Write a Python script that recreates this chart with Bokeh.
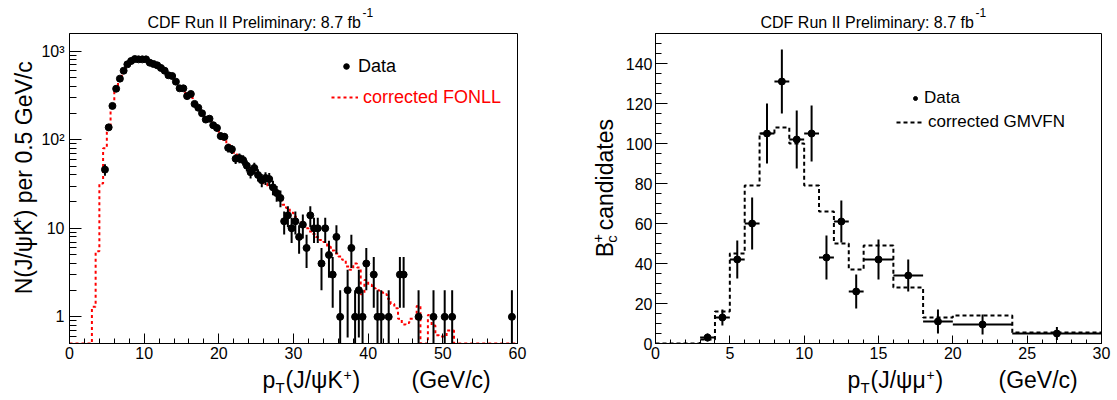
import numpy as np
from math import pi
from bokeh.plotting import figure
from bokeh.layouts import row, column
from bokeh.models import (Range1d, FixedTicker, Legend, LegendItem,
                          CustomJSTickFormatter)
from bokeh.core.properties import value
from bokeh.embed import file_html
from bokeh.resources import INLINE

FONT = "Liberation Sans"

# ---------------- left panel: B+ -> J/psi K+ ----------------
bk_pt = [4.75, 5.25, 5.75, 6.25, 6.75, 7.25, 7.75, 8.25, 8.75, 9.25,
         9.75, 10.25, 10.75, 11.25, 11.75, 12.25, 12.75, 13.25, 13.75, 14.25,
         14.75, 15.25, 15.75, 16.25, 16.75, 17.25, 17.75, 18.25, 18.75, 19.25,
         19.75, 20.25, 20.75, 21.25, 21.75, 22.25, 22.75, 23.25, 23.75, 24.25,
         24.75, 25.25, 25.75, 26.25, 26.75, 27.25, 27.75, 28.25, 28.75, 29.25,
         29.75, 30.25, 30.75, 31.25, 31.75, 32.25, 32.75, 33.25, 33.75, 34.25,
         34.75, 35.25, 35.75, 36.25, 37.25, 37.75, 38.25, 38.75, 39.25, 39.75,
         40.75, 41.25, 41.75, 42.75, 44.25, 44.75, 46.75, 48.75, 50.25, 51.25,
         59.25]
bk_counts = [46, 138, 241, 377, 490, 602, 711, 775, 816, 809,
             809, 809, 742, 717, 693, 647, 602, 535, 525, 453,
             381, 381, 311, 329, 254, 230, 199, 169, 173, 146,
             136, 110, 108, 81, 78, 61, 62, 59, 51, 43,
             48, 40, 35, 37, 36, 29, 25, 22, 12, 14,
             10, 12, 8, 11, 6, 14, 10, 10, 4, 10,
             5, 3, 8, 1, 2, 6, 1, 2, 1, 4,
             3, 1, 1, 1, 3, 3, 1, 1, 1, 1,
             1]
bk_bin_width = 0.5

# corrected FONLL prediction, 0.5 GeV/c bins from 0 to 60
fonll_values = [0, 0, 0, 0, 0, 0, 1.3, 5.5, 32, 80,
                140, 245, 370, 490, 600, 700, 770, 800, 810, 800,
                790, 760, 720, 690, 650, 600, 550, 510, 460, 400,
                370, 330, 300, 260, 235, 205, 180, 165, 145, 130,
                115, 100, 88, 78, 68, 62, 56, 50, 45, 42,
                38, 35, 32, 29, 27, 24, 21, 18.5, 17, 15,
                13.5, 12, 11, 10, 9.2, 8.6, 8.0, 7.4, 7.0, 6.2,
                5.6, 5.2, 4.8, 4.4, 3.7, 3.4, 4.0, 3.6, 1.8, 2.6,
                2.3, 2.1, 2.0, 1.9, 1.8, 1.6, 1.4, 1.25, 0.95, 0.82,
                0.85, 0.95, 0.95, 1.33, 0, 0, 1.05, 0.8, 0.62, 0.6,
                0.6, 0.7, 0.7, 0, 0, 0, 0, 0, 0, 0,
                0, 0, 0, 0, 0, 0, 0, 0, 0, 0]

# ---------------- right panel: Bc+ -> J/psi mu+ X ----------------
bc_edges = [3, 4, 5, 6, 7, 8, 9, 10, 11, 12, 13, 14, 16, 18, 20, 24, 30]
bc_counts = [3, 13, 42, 60, 105, 131, 102, 105, 43, 61, 26, 42, 34, 11, 9.5, 5]
bc_errors = [2, 4, 9.5, 13, 15, 16, 14.5, 14, 11, 10.5, 8.5, 10, 8, 6, 5, 3.3]
gmvfn_edges = [0, 3, 4, 5, 6, 7, 8, 9, 10, 11, 12, 13, 14, 16, 18, 20, 24, 30]
gmvfn_values = [0, 2, 16, 45, 79, 105, 108, 100, 79, 66, 50, 37, 49, 28, 13, 14, 5.5]

left_xticks = [0, 10, 20, 30, 40, 50, 60]
right_xticks = [0, 5, 10, 15, 20, 25, 30]
right_yticks = [0, 20, 40, 60, 80, 100, 120, 140]

FRAME_W, FRAME_H = 449, 310
TITLE_H = 31
MID_TOP, MID_BOTTOM = 2, 22
MID_H = MID_TOP + FRAME_H + MID_BOTTOM      # 334
XLAB_H = 400 - TITLE_H - MID_H              # 35


def style_axes(p, size=16):
    p.outline_line_color = "black"
    p.outline_line_width = 1
    p.grid.visible = False
    p.background_fill_color = "white"
    p.border_fill_color = "white"
    for ax in (p.xaxis[0], p.yaxis[0]):
        ax.axis_line_color = "black"
        ax.axis_line_width = 1
        ax.major_tick_line_color = "black"
        ax.minor_tick_line_color = "black"
        ax.major_tick_out = 0
        ax.minor_tick_out = 0
        ax.major_label_text_font = FONT
        ax.major_label_text_font_size = f"{size}px"
        ax.major_label_text_color = "black"


def text_fig(x0, y0, w, h):
    f = figure(width=w, height=h, x_range=Range1d(0, w), y_range=Range1d(0, h),
               x_axis_location=None, y_axis_location=None, toolbar_location=None,
               output_backend="svg", min_border=0, title=None)
    f.outline_line_color = None
    f.xgrid.visible = False
    f.ygrid.visible = False
    f.background_fill_color = "white"
    f.border_fill_color = "white"
    f._origin = (x0, y0, h)
    return f


def txt(f, X, Y, s, size, angle=0.0, color="black"):
    """Place text so that its alphabetic baseline starts at page pixel (X, Y)."""
    x0, y0, h = f._origin
    d = 0.22 * size  # bokeh anchors 'alphabetic' slightly below the true baseline
    if angle == 0.0:
        Y = Y - d
    else:
        X = X - d
    f.text(x=[X - x0], y=[y0 + h - Y], text=[s], text_font=value(FONT),
           text_font_size=value(f"{size}px"), text_color=color, angle=angle,
           text_align="left", text_baseline="alphabetic")


AX = 23   # axis-title font size
SUB = 15  # sub/superscript font size

# =================== LEFT BLOCK (x 0..580) ===================
LW = 580
YL1_W = 38
p1 = figure(width=LW - YL1_W, height=MID_H,
            x_range=Range1d(0, 60), y_range=Range1d(0.5, 1585), y_axis_type="log",
            output_backend="svg", toolbar_location=None, title=None,
            min_border_left=68 - YL1_W, min_border_right=LW - 68 - FRAME_W,
            min_border_top=MID_TOP, min_border_bottom=MID_BOTTOM)
style_axes(p1)
p1.xaxis.ticker = FixedTicker(ticks=left_xticks, minor_ticks=list(range(0, 61, 2)))
p1.xaxis.major_tick_in = 10
p1.xaxis.minor_tick_in = 5
p1.xaxis.major_label_standoff = 3
minor_log = [m * 10.0 ** d for d in range(-1, 4) for m in range(2, 10)]
minor_log = [v for v in minor_log if 0.5 <= v <= 1585]
p1.yaxis.ticker = FixedTicker(ticks=[1, 10, 100, 1000], minor_ticks=minor_log)
p1.yaxis.formatter = CustomJSTickFormatter(
    code="const m = {1: '1', 10: '10', 100: '10\u00b2', 1000: '10\u00b3'}; return m[Math.round(tick)] || '';")
p1.yaxis.major_tick_in = 12
p1.yaxis.minor_tick_in = 7
p1.yaxis.major_label_standoff = 5

f_edges = [i * bk_bin_width for i in range(len(fonll_values) + 1)]
f_vals = np.maximum(np.array(fonll_values + [fonll_values[-1]], dtype=float), 0.5)
r_fonll = p1.step(x=f_edges, y=f_vals, mode="after", line_color="#ff0000",
                  line_dash="3 3", line_width=2)

bk_c = np.array(bk_counts, dtype=float)
bk_x = np.array(bk_pt)
bk_err = np.sqrt(bk_c)
p1.segment(x0=bk_x, y0=np.maximum(bk_c - bk_err, 0.3), x1=bk_x, y1=bk_c + bk_err,
           line_color="black", line_width=2)
p1.segment(x0=bk_x - bk_bin_width / 2, y0=bk_c, x1=bk_x + bk_bin_width / 2, y1=bk_c,
           line_color="black", line_width=2)
r_data1 = p1.scatter(x=bk_x, y=bk_c, size=7, marker="circle", fill_color="black",
                     line_color="black")


def legend(item_label, renderer, X, Ytop, gw, standoff, size, color, fx0, fy0):
    return Legend(items=[LegendItem(label=item_label, renderers=[renderer])],
                  location=(X - fx0, fy0 - (Ytop + 22)), glyph_width=gw, glyph_height=22,
                  label_height=22, label_standoff=standoff, padding=0, margin=0, spacing=0,
                  border_line_color=None, background_fill_alpha=0,
                  label_text_font=FONT, label_text_font_size=f"{size}px",
                  label_text_color=color)


p1.add_layout(legend("Data", r_data1, 338, 55, 14, 5, 18, "black", 68, 343))
p1.add_layout(legend("corrected FONLL", r_fonll, 330, 86, 27, 5, 18, "#ff0000", 68, 343))

t1 = text_fig(0, 0, LW, TITLE_H)
txt(t1, 147, 26, "CDF Run II Preliminary: 8.7 fb", 16)
txt(t1, 362, 15, "-1", 12)

y1 = text_fig(0, TITLE_H, YL1_W, MID_H)
txt(y1, 28.5, 312, "N(J/\u03c8K", AX, angle=pi / 2)
txt(y1, 19.5, 238, "+", SUB, angle=pi / 2)
txt(y1, 28.5, 229, ") per 0.5 GeV/c", AX, angle=pi / 2)

x1 = text_fig(0, TITLE_H + MID_H, LW, XLAB_H)
txt(x1, 262, 385, "p", AX)
txt(x1, 275, 390, "T", SUB)
txt(x1, 285, 385, "(J/\u03c8K", AX)
txt(x1, 343, 378, "+", 14)
txt(x1, 352, 385, ")", AX)
txt(x1, 411, 385, "(GeV/c)", AX)

left_block = column(t1, row(y1, p1), x1)

# =================== RIGHT BLOCK (x 580..1117) ===================
RX0 = LW
RW = 1117 - RX0
YL2_W = 42
p2 = figure(width=RW - YL2_W, height=MID_H,
            x_range=Range1d(0, 30), y_range=Range1d(0, 155),
            output_backend="svg", toolbar_location=None, title=None,
            min_border_left=652 - (RX0 + YL2_W), min_border_right=1117 - 652 - FRAME_W,
            min_border_top=MID_TOP, min_border_bottom=MID_BOTTOM)
style_axes(p2)
p2.xaxis.ticker = FixedTicker(ticks=right_xticks, minor_ticks=list(range(0, 31)))
p2.xaxis.major_tick_in = 8
p2.xaxis.minor_tick_in = 4
p2.xaxis.major_label_standoff = 3
p2.yaxis.ticker = FixedTicker(ticks=right_yticks, minor_ticks=list(range(0, 156, 5)))
p2.yaxis.major_tick_in = 12
p2.yaxis.minor_tick_in = 6
p2.yaxis.major_label_standoff = 3

r_gmvfn = p2.step(x=gmvfn_edges, y=gmvfn_values + [gmvfn_values[-1]], mode="after",
                  line_color="black", line_dash="4 3", line_width=2)

e = np.array(bc_edges, dtype=float)
bc_lo_edge, bc_hi_edge = e[:-1], e[1:]
bc_x = (bc_lo_edge + bc_hi_edge) / 2
bc_c = np.array(bc_counts, dtype=float)
bc_e = np.array(bc_errors, dtype=float)
p2.segment(x0=bc_x, y0=bc_c - bc_e, x1=bc_x, y1=bc_c + bc_e, line_color="black", line_width=2)
p2.segment(x0=bc_lo_edge, y0=bc_c, x1=bc_hi_edge, y1=bc_c, line_color="black", line_width=2)
r_data2 = p2.scatter(x=bc_x, y=bc_c, size=7, marker="circle", fill_color="black",
                     line_color="black")

p2.add_layout(legend("Data", r_data2, 907, 87, 10, 4, 17, "black", 652, 343))
p2.add_layout(legend("corrected GMVFN", r_gmvfn, 893, 111, 26, 6, 17, "black", 652, 343))

t2 = text_fig(RX0, 0, RW, TITLE_H)
txt(t2, 760, 26, "CDF Run II Preliminary: 8.7 fb", 16)
txt(t2, 975, 15, "-1", 12)

y2 = text_fig(RX0, TITLE_H, YL2_W, MID_H)
txt(y2, 610, 272, "B", AX, angle=pi / 2)
txt(y2, 614, 256.5, "c", SUB, angle=pi / 2)
txt(y2, 601, 256.5, "+", SUB, angle=pi / 2)
txt(y2, 610, 243, "candidates", AX, angle=pi / 2)

x2 = text_fig(RX0, TITLE_H + MID_H, RW, XLAB_H)
txt(x2, 847, 385, "p", AX)
txt(x2, 860, 390, "T", SUB)
txt(x2, 870, 385, "(J/\u03c8\u03bc", AX)
txt(x2, 926, 378, "+", 14)
txt(x2, 935, 385, ")", AX)
txt(x2, 998, 385, "(GeV/c)", AX)

right_block = column(t2, row(y2, p2), x2)

layout = row(left_block, right_block)
open("out.html", "w").write(file_html(layout, INLINE))
